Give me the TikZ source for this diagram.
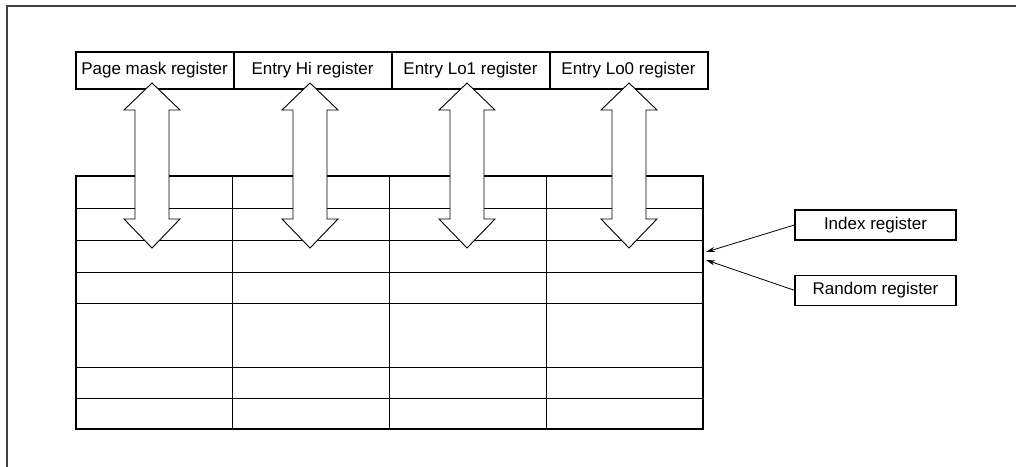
\documentclass[tikz,border=0pt]{standalone}
\usepackage{fontspec}
\setmainfont{Liberation Sans}
\usetikzlibrary{arrows.meta,positioning}

\begin{document}
\begin{tikzpicture}[x=1pt, y=-1pt,
    registre/.style={draw, line width=1pt, minimum width=157pt, minimum height=36pt, inner sep=0pt},
    pointeur/.style={draw, line width=1.3pt, minimum width=161pt, minimum height=30pt, inner sep=0pt},
    fleche/.style={draw, line width=0.9pt, fill=white},
    font=\fontsize{17}{20}\selectfont]
    \useasboundingbox (0,0) rectangle (1016,466);
    % Cadre
    \draw[line width=1.5pt, black!75] (7,6) rectangle (1040,490);
    % Registres
    \node[registre] at (154.5,70) (pm) {Page mask register};
    \node[registre, right=0pt of pm] (hi) {Entry Hi register};
    \node[registre, right=0pt of hi] (lo1) {Entry Lo1 register};
    \node[registre, right=0pt of lo1] (lo0) {Entry Lo0 register};
    \draw[line width=2pt] (pm.north west) rectangle (lo0.south east);
    % Table
    \draw[line width=2pt] (76,176) rectangle (703,429);
    \foreach \y in {208,240,272,303,367,398}
      \draw[line width=1pt] (76,\y) -- (703,\y);
    \foreach \x in {232.5,389.5,546.5}
      \draw[line width=1pt] (\x,176) -- (\x,429);
    % Fleches doubles
    \foreach \c in {152,310,467,629}
      \draw[fleche] (\c,83) -- ({\c+28},110) -- ({\c+17},110) -- ({\c+17},219) -- ({\c+28},219)
        -- (\c,248) -- ({\c-28},219) -- ({\c-17},219) -- ({\c-17},110) -- ({\c-28},110) -- cycle;
    % Index et Random
    \node[pointeur] at (875.5,225) (idx) {Index register};
    \node[pointeur, below=34pt of idx] (rnd) {Random register};
    \coordinate (ci) at (706,252);
    \coordinate (cr) at (706,260);
    \draw[-{Stealth[length=9pt,width=5pt]}, line width=0.8pt] (idx.west) -- (ci);
    \draw[-{Stealth[length=9pt,width=5pt]}, line width=0.8pt] (rnd.west) -- (cr);
\end{tikzpicture}
\end{document}
